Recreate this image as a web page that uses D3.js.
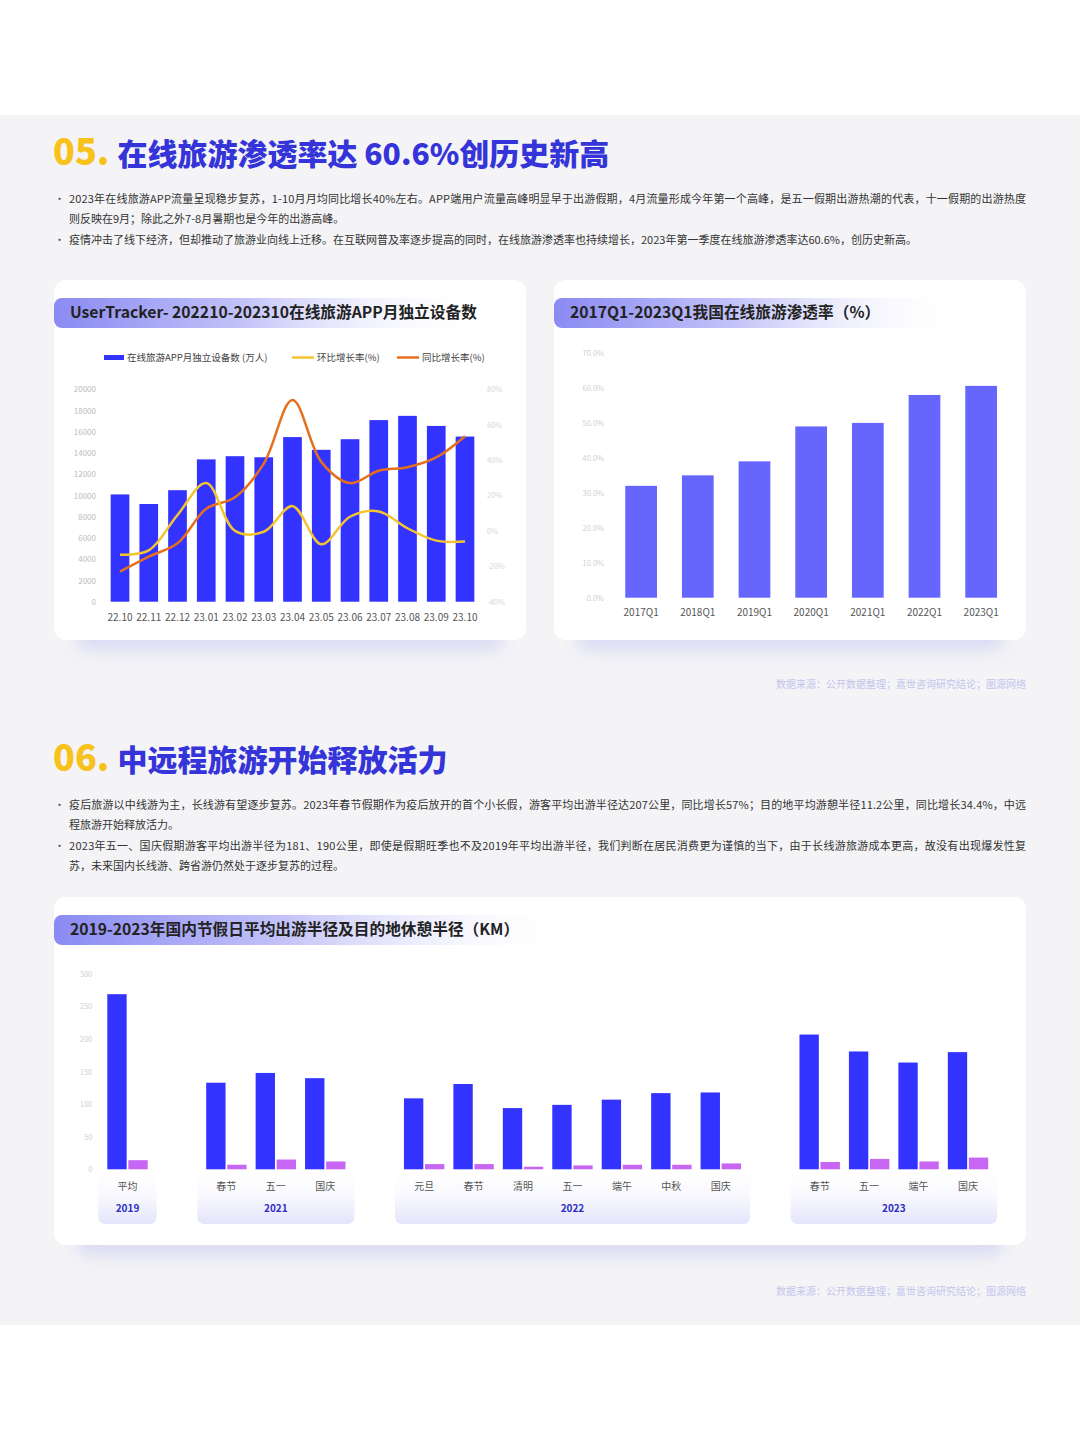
<!DOCTYPE html>
<html>
<head>
<meta charset="utf-8">
<script src="https://cdn.jsdelivr.net/npm/d3@7"></script>
<style>
  body { margin: 0; background: #fff; }
  svg { display: block; }
  text { font-family: "Noto Sans CJK SC", "Noto Sans", sans-serif; }
</style>
</head>
<body>
<svg id="page"></svg>
<script>
// chart 1 data: monthly unique devices
const months = ['22.10', '22.11', '22.12', '23.01', '23.02', '23.03', '23.04', '23.05', '23.06', '23.07', '23.08', '23.09', '23.10'];
const devices = [10100, 9200, 10500, 13400, 13700, 13600, 15500, 14300, 15300, 17100, 17500, 16550, 15550];
const momRate = [-13.5, -11, 9, 27, 0, -0.5, 14, -7.5, 8, 11, 1.5, -5.5, -6];
const yoyRate = [-23, -14.5, -7, 12.5, 19, 38, 74, 39, 27, 34, 36, 41.5, 53.5];
const devTicks = [0, 2000, 4000, 6000, 8000, 10000, 12000, 14000, 16000, 18000, 20000];
const rateTicks = [-40, -20, 0, 20, 40, 60, 80];

// chart 2 data: penetration
const quarters = ['2017Q1', '2018Q1', '2019Q1', '2020Q1', '2021Q1', '2022Q1', '2023Q1'];
const penetration = [32, 35, 39, 49, 50, 58, 60.6];
const penTicks = [0, 10, 20, 30, 40, 50, 60, 70];

// chart 3 data: holiday travel radius
const years = ['2019', '2021', '2022', '2023'];
const holidays = [['平均'], ['春节', '五一', '国庆'], ['元旦', '春节', '清明', '五一', '端午', '中秋', '国庆'], ['春节', '五一', '端午', '国庆']];
const travelRadius = [[269], [133, 148, 140], [109, 131, 94, 99, 107, 117, 118], [207, 181, 164, 180]];
const restRadius = [[14], [7, 15, 12], [8, 8, 4, 6, 7, 7, 9], [11.2, 16, 12, 18]];
const kmTicks = [0, 50, 100, 150, 200, 250, 300];

const W = 1080, H = 1441;
const svg = d3.select('#page').attr('width', W).attr('height', H);
const defs = svg.append('defs');

// gradients / filters
const tg = defs.append('linearGradient').attr('id', 'titleBand').attr('x1', 0).attr('x2', 1).attr('y1', 0).attr('y2', 0);
tg.append('stop').attr('offset', 0).attr('stop-color', '#8a8af3');
tg.append('stop').attr('offset', 0.45).attr('stop-color', '#c4c4f8');
tg.append('stop').attr('offset', 1).attr('stop-color', '#ffffff').attr('stop-opacity', 0);

const yg = defs.append('linearGradient').attr('id', 'yearBox').attr('x1', 0).attr('x2', 0).attr('y1', 0).attr('y2', 1);
yg.append('stop').attr('offset', 0).attr('stop-color', '#ffffff').attr('stop-opacity', 0);
yg.append('stop').attr('offset', 1).attr('stop-color', '#e3e3fb');

defs.append('filter').attr('id', 'blur').attr('x', '-20%').attr('y', '-50%').attr('width', '140%').attr('height', '200%')
  .append('feGaussianBlur').attr('stdDeviation', 9);

// page background
svg.append('rect').attr('width', W).attr('height', H).attr('fill', '#fff');
svg.append('rect').attr('x', 0).attr('y', 115).attr('width', W).attr('height', 1210).attr('fill', '#f4f4f6');

function sectionTitle(num, text, y) {
  const t = svg.append('text').attr('x', 53).attr('y', y).attr('font-weight', 900);
  t.append('tspan').attr('font-size', 36).attr('fill', '#f7c21c').text(num);
  t.append('tspan').attr('font-size', 30).attr('fill', '#3434d8').attr('dx', 8).text(text);
}

function bullets(lines, y0) {
  // lines: [text, isFirstOfBullet, justify]
  lines.forEach((l, i) => {
    const y = y0 + i * 20.3;
    if (l[1]) svg.append('text').attr('x', 54).attr('y', y).attr('font-size', 11).attr('fill', '#555').text('•');
    const t = svg.append('text').attr('x', 69).attr('y', y).attr('font-size', 11).attr('fill', '#333').text(l[0]);
    if (l[2]) t.attr('textLength', 957).attr('lengthAdjust', 'spacing');
  });
}

function panel(x, y, w, h, title, bandW) {
  svg.append('rect').attr('x', x + 24).attr('y', y + h - 24).attr('width', w - 48).attr('height', 34)
    .attr('fill', '#c3c3f2').attr('opacity', 0.55).attr('filter', 'url(#blur)');
  svg.append('rect').attr('x', x).attr('y', y).attr('width', w).attr('height', h).attr('rx', 12).attr('fill', '#fff');
  svg.append('rect').attr('x', x).attr('y', y + 18).attr('width', bandW).attr('height', 30).attr('rx', 8)
    .attr('fill', 'url(#titleBand)');
  svg.append('text').attr('x', x + 16).attr('y', y + 38).attr('font-size', 15.7).attr('font-weight', 700)
    .attr('fill', '#222').text(title);
}

function source(y) {
  svg.append('text').attr('x', 1026).attr('y', y).attr('text-anchor', 'end').attr('font-size', 10)
    .attr('fill', '#c4c4ec').text('数据来源：公开数据整理；嘉世咨询研究结论；图源网络');
}

const axisText = g => g.selectAll('text').attr('font-family', '"Noto Sans CJK SC", sans-serif');

// ---------- section 05 ----------
sectionTitle('05.', '在线旅游渗透率达 60.6%创历史新高', 165);
bullets([
  ['2023年在线旅游APP流量呈现稳步复苏，1-10月月均同比增长40%左右。APP端用户流量高峰明显早于出游假期，4月流量形成今年第一个高峰，是五一假期出游热潮的代表，十一假期的出游热度', true, true],
  ['则反映在9月；除此之外7-8月暑期也是今年的出游高峰。', false, false],
  ['疫情冲击了线下经济，但却推动了旅游业向线上迁移。在互联网普及率逐步提高的同时，在线旅游渗透率也持续增长，2023年第一季度在线旅游渗透率达60.6%，创历史新高。', true, false]
], 203);

// ---------- chart 1 ----------
panel(54, 280, 472, 360, 'UserTracker- 202210-202310在线旅游APP月独立设备数', 430);

const x1 = d3.scaleBand().domain(months).range([100.6, 484.4]).padding(0.35);
const y1 = d3.scaleLinear().domain([0, 20000]).range([601.7, 389.3]);
const y1r = d3.scaleLinear().domain([-40, 80]).range([601.7, 389.3]);

// legend
const lg = svg.append('g').attr('font-size', 9.5).attr('fill', '#444');
lg.append('rect').attr('x', 104).attr('y', 355).attr('width', 20).attr('height', 5).attr('fill', '#3333ff');
lg.append('text').attr('x', 127).attr('y', 361).text('在线旅游APP月独立设备数 (万人)');
lg.append('line').attr('x1', 292).attr('x2', 314).attr('y1', 357.5).attr('y2', 357.5).attr('stroke', '#f4c430').attr('stroke-width', 2.5);
lg.append('text').attr('x', 317).attr('y', 361).text('环比增长率(%)');
lg.append('line').attr('x1', 397).attr('x2', 419).attr('y1', 357.5).attr('y2', 357.5).attr('stroke', '#e4701e').attr('stroke-width', 2.5);
lg.append('text').attr('x', 422).attr('y', 361).text('同比增长率(%)');

svg.append('g').attr('transform', 'translate(96,0)')
  .call(d3.axisLeft(y1).tickValues(devTicks).tickSize(0).tickPadding(0).tickFormat(d3.format('d')))
  .call(g => g.select('.domain').remove())
  .call(g => g.selectAll('text').attr('font-size', 8).attr('fill', '#bbb'))
  .call(axisText);

svg.append('g').attr('transform', 'translate(487,0)')
  .call(d3.axisRight(y1r).tickValues(rateTicks).tickSize(0).tickPadding(0).tickFormat(d => d + '%'))
  .call(g => g.select('.domain').remove())
  .call(g => g.selectAll('text').attr('font-size', 7.5).attr('fill', '#d6d6d6'))
  .call(axisText);

svg.append('g').selectAll('rect').data(months).join('rect')
  .attr('x', d => x1(d)).attr('width', x1.bandwidth())
  .attr('y', (d, i) => y1(devices[i])).attr('height', (d, i) => y1(0) - y1(devices[i]))
  .attr('fill', '#3333ff');

svg.append('g').selectAll('text').data(months).join('text')
  .attr('x', d => x1(d) + x1.bandwidth() / 2).attr('y', 621)
  .attr('text-anchor', 'middle').attr('font-size', 10).attr('fill', '#555').text(d => d);

const rateLine = arr => d3.line()
  .x((d, i) => x1(months[i]) + x1.bandwidth() / 2)
  .y(d => y1r(d))
  .curve(d3.curveCatmullRom.alpha(0.5))(arr);

svg.append('path').attr('d', rateLine(yoyRate)).attr('fill', 'none').attr('stroke', '#e4701e').attr('stroke-width', 2.5);
svg.append('path').attr('d', rateLine(momRate)).attr('fill', 'none').attr('stroke', '#f4c430').attr('stroke-width', 2.5);

// ---------- chart 2 ----------
panel(554, 280, 472, 360, '2017Q1-2023Q1我国在线旅游渗透率（%）', 410);

const x2 = d3.scaleBand().domain(quarters).range([612.8, 1009.5]).paddingInner(0.44).paddingOuter(0.22);
const y2 = d3.scaleLinear().domain([0, 70]).range([597.7, 353]);

svg.append('g').attr('transform', 'translate(604,0)')
  .call(d3.axisLeft(y2).tickValues(penTicks).tickSize(0).tickPadding(0).tickFormat(d => d.toFixed(1) + '%'))
  .call(g => g.select('.domain').remove())
  .call(g => g.selectAll('text').attr('font-size', 7.5).attr('fill', '#cfcfcf'))
  .call(axisText);

svg.append('g').selectAll('rect').data(quarters).join('rect')
  .attr('x', d => x2(d)).attr('width', x2.bandwidth())
  .attr('y', (d, i) => y2(penetration[i])).attr('height', (d, i) => y2(0) - y2(penetration[i]))
  .attr('fill', '#6666ff');

svg.append('g').selectAll('text').data(quarters).join('text')
  .attr('x', d => x2(d) + x2.bandwidth() / 2).attr('y', 616)
  .attr('text-anchor', 'middle').attr('font-size', 10).attr('fill', '#555').text(d => d);

source(688);

// ---------- section 06 ----------
sectionTitle('06.', '中远程旅游开始释放活力', 771);
bullets([
  ['疫后旅游以中线游为主，长线游有望逐步复苏。2023年春节假期作为疫后放开的首个小长假，游客平均出游半径达207公里，同比增长57%；目的地平均游憩半径11.2公里，同比增长34.4%，中远', true, true],
  ['程旅游开始释放活力。', false, false],
  ['2023年五一、国庆假期游客平均出游半径为181、190公里，即使是假期旺季也不及2019年平均出游半径，我们判断在居民消费更为谨慎的当下，由于长线游旅游成本更高，故没有出现爆发性复', true, true],
  ['苏，未来国内长线游、跨省游仍然处于逐步复苏的过程。', false, false]
], 809);

// ---------- chart 3 ----------
panel(54, 897, 972, 348, '2019-2023年国内节假日平均出游半径及目的地休憩半径（KM）', 520);

const slots = [];
const items = [];
years.forEach((yr, i) => {
  if (i > 0) slots.push('gap' + i);
  holidays[i].forEach((h, j) => {
    const key = yr + '-' + h;
    slots.push(key);
    items.push({ key, year: yr, name: h, travel: travelRadius[i][j], rest: restRadius[i][j] });
  });
});

const x3 = d3.scaleBand().domain(slots).range([107.3, 988.2]).paddingInner(0.183).paddingOuter(0);
const x3s = d3.scaleBand().domain(['travel', 'rest']).range([0, x3.bandwidth()]).paddingInner(0.08);
const y3 = d3.scaleLinear().domain([0, 300]).range([1169.3, 974]);

// year boxes
years.forEach(yr => {
  const ks = items.filter(d => d.year === yr).map(d => d.key);
  const left = x3(ks[0]) - 9;
  const right = x3(ks[ks.length - 1]) + x3.bandwidth() + 9;
  svg.append('rect').attr('x', left).attr('y', 1166).attr('width', right - left).attr('height', 58)
    .attr('rx', 7).attr('fill', 'url(#yearBox)');
  svg.append('text').attr('x', (left + right) / 2).attr('y', 1212).attr('text-anchor', 'middle')
    .attr('font-size', 10).attr('font-weight', 700).attr('fill', '#2f2fc4').text(yr);
});

svg.append('g').attr('transform', 'translate(92.3,0)')
  .call(d3.axisLeft(y3).tickValues(kmTicks).tickSize(0).tickPadding(0))
  .call(g => g.select('.domain').remove())
  .call(g => g.selectAll('text').attr('font-size', 7.5).attr('fill', '#cfcfcf'))
  .call(axisText);

const grp = svg.append('g').selectAll('g').data(items).join('g')
  .attr('transform', d => `translate(${x3(d.key)},0)`);
grp.append('rect').attr('x', x3s('travel')).attr('width', x3s.bandwidth())
  .attr('y', d => y3(d.travel)).attr('height', d => y3(0) - y3(d.travel)).attr('fill', '#3333ff');
grp.append('rect').attr('x', x3s('rest')).attr('width', x3s.bandwidth())
  .attr('y', d => y3(d.rest)).attr('height', d => y3(0) - y3(d.rest)).attr('fill', '#c766f2');
grp.append('text').attr('x', x3.bandwidth() / 2).attr('y', 1190).attr('text-anchor', 'middle')
  .attr('font-size', 10).attr('fill', '#555').text(d => d.name);

source(1295);
</script>
</body>
</html>
